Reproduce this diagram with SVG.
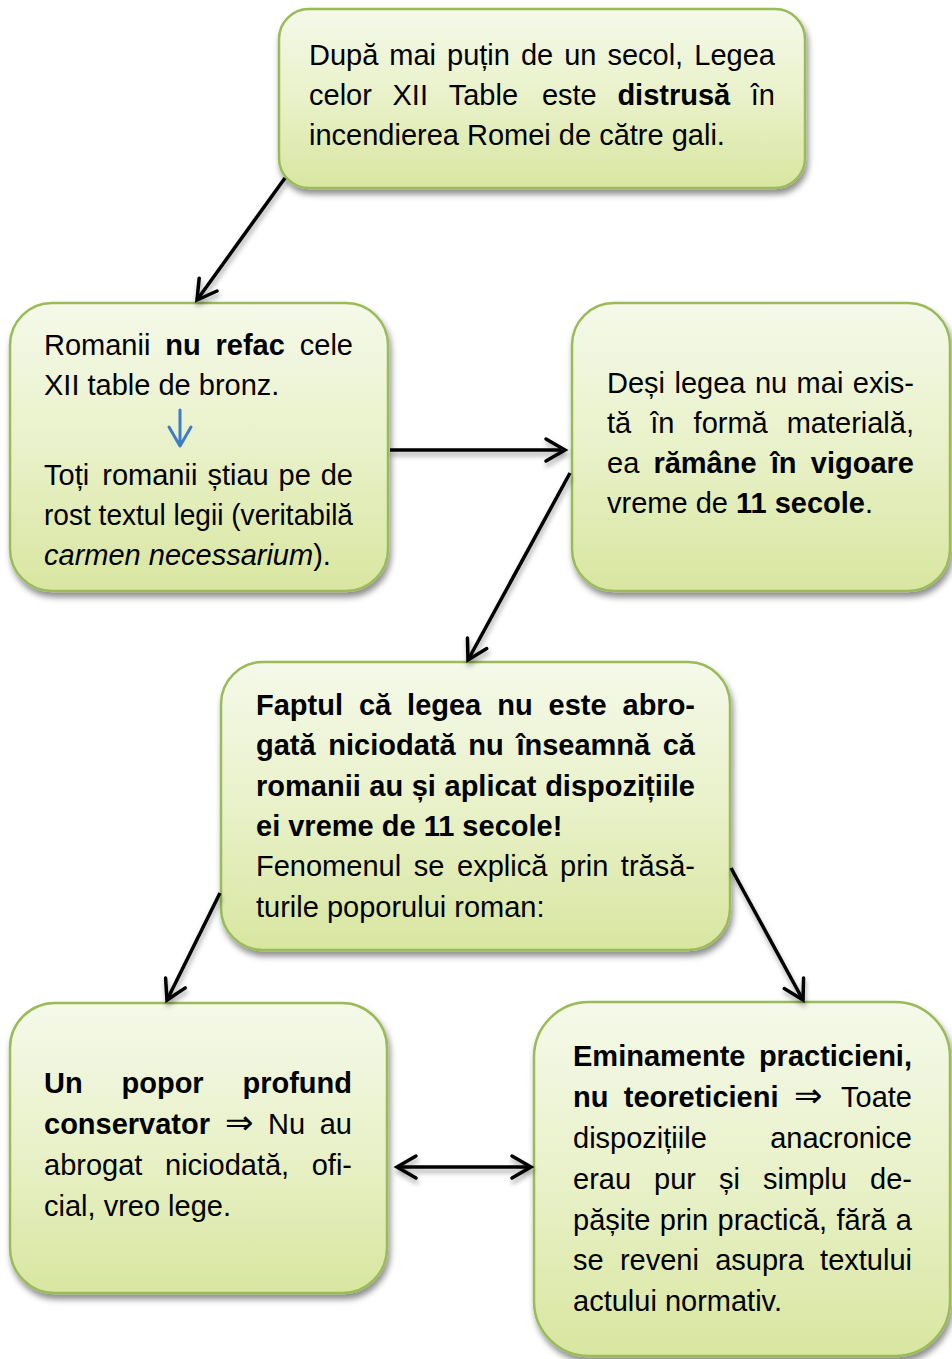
<svg xmlns="http://www.w3.org/2000/svg" width="952" height="1359" viewBox="0 0 952 1359">
<defs>
<linearGradient id="gf" x1="0" y1="0" x2="0" y2="1">
<stop offset="0" stop-color="#f5f9ea"/>
<stop offset="0.5" stop-color="#e9f1c9"/>
<stop offset="1" stop-color="#d8e6a0"/>
</linearGradient>
<filter id="sh" x="-10%" y="-10%" width="125%" height="130%">
<feDropShadow dx="2" dy="5" stdDeviation="3" flood-color="#000" flood-opacity="0.45"/>
</filter>
<filter id="lsh" x="-20%" y="-20%" width="140%" height="140%">
<feDropShadow dx="1" dy="4" stdDeviation="2.5" flood-color="#000" flood-opacity="0.35"/>
</filter>
<marker id="ah" viewBox="-24 -14 30 28" refX="0" refY="0" markerWidth="30" markerHeight="28" markerUnits="userSpaceOnUse" orient="auto-start-reverse">
<path d="M-19,-11 L0,0 L-19,11" fill="none" stroke="#000" stroke-width="3.5" stroke-linecap="round"/>
</marker>
<style>
.box{fill:url(#gf);stroke:#9bbb59;stroke-width:2.5;filter:url(#sh)}
text{font-family:"Liberation Sans",Arial,sans-serif;font-size:29px;fill:#000}
.b{font-weight:bold}
.i{font-style:italic}
.sym{font-family:"DejaVu Sans",sans-serif;font-weight:normal;font-size:34px}
.e{text-anchor:end}
.con{stroke:#000;stroke-width:3.5;fill:none;marker-end:url(#ah)}
</style>
</defs>

<g id="node-1">
<rect class="box" x="279" y="9" width="526" height="179" rx="30"/>
<text y="65"><tspan x="309">După</tspan><tspan x="389.3">mai</tspan><tspan x="447">puțin</tspan><tspan x="520.9">de</tspan><tspan x="564.2">un</tspan><tspan x="607.4">secol,</tspan><tspan x="775" class="e">Legea</tspan></text>
<text y="105"><tspan x="309">celor</tspan><tspan x="392.5">XII</tspan><tspan x="448.7">Table</tspan><tspan x="541.9">este</tspan><tspan x="617.4" class="b">distrusă</tspan><tspan x="775" class="e">în</tspan></text>
<text x="309" y="145">incendierea Romei de către gali.</text>
</g>

<g id="node-2">
<rect class="box" x="10" y="303" width="378" height="288" rx="42"/>
<text y="355"><tspan x="44">Romanii</tspan><tspan x="165.2" class="b">nu</tspan><tspan x="215.5" class="b">refac</tspan><tspan x="353" class="e">cele</tspan></text>
<text x="44" y="395">XII table de bronz.</text>
<path d="M180,410 L180,445 M169,427 L180,446 L191,427" fill="none" stroke="#3d7cc9" stroke-width="3" stroke-linecap="round" stroke-linejoin="round"/>
<text y="485"><tspan x="44">Toți</tspan><tspan x="102.3">romanii</tspan><tspan x="207.4">știau</tspan><tspan x="278.6">pe</tspan><tspan x="353" class="e">de</tspan></text>
<text x="44" y="525" textLength="309" lengthAdjust="spacingAndGlyphs">rost textul legii (veritabilă</text>
<text x="44" y="565"><tspan class="i">carmen necessarium</tspan>).</text>
</g>

<g id="node-3">
<rect class="box" x="572" y="303" width="378" height="288" rx="42"/>
<text y="393"><tspan x="607">Deși</tspan><tspan x="674.5">legea</tspan><tspan x="754.9">nu</tspan><tspan x="796.6">mai</tspan><tspan x="914" class="e">exis-</tspan></text>
<text y="433"><tspan x="607">tă</tspan><tspan x="650.3">în</tspan><tspan x="693.6">formă</tspan><tspan x="914" class="e">materială,</tspan></text>
<text y="473"><tspan x="607">ea</tspan><tspan x="653.4" class="b">rămâne</tspan><tspan x="770.8" class="b">în</tspan><tspan x="914" class="e b">vigoare</tspan></text>
<text x="607" y="513">vreme de <tspan class="b">11 secole</tspan>.</text>
</g>

<g id="node-4">
<rect class="box" x="221" y="662" width="509" height="288" rx="42"/>
<text y="715" class="b"><tspan x="256">Faptul</tspan><tspan x="358.9">că</tspan><tspan x="407.1">legea</tspan><tspan x="497.2">nu</tspan><tspan x="548.5">este</tspan><tspan x="695" class="e">abro-</tspan></text>
<text y="755.3" class="b"><tspan x="256">gată</tspan><tspan x="328.3">niciodată</tspan><tspan x="468.3">nu</tspan><tspan x="516.4">înseamnă</tspan><tspan x="695" class="e">că</tspan></text>
<text y="795.6" class="b"><tspan x="256">romanii</tspan><tspan x="369.3">au</tspan><tspan x="411.7">și</tspan><tspan x="444.5">aplicat</tspan><tspan x="695" class="e">dispozițiile</tspan></text>
<text x="256" y="835.9" class="b">ei vreme de 11 secole!</text>
<text y="876.2"><tspan x="256">Fenomenul</tspan><tspan x="413.8">se</tspan><tspan x="457.1">explică</tspan><tspan x="560">prin</tspan><tspan x="695" class="e">trăsă-</tspan></text>
<text x="256" y="916.5">turile poporului roman:</text>
</g>

<g id="node-5">
<rect class="box" x="10" y="1003" width="377" height="290" rx="45"/>
<text y="1093" class="b"><tspan x="44">Un</tspan><tspan x="121.5">popor</tspan><tspan x="352" class="e">profund</tspan></text>
<text y="1134"><tspan x="44" class="b">conservator</tspan><tspan x="225" class="sym">⇒</tspan><tspan x="268">Nu</tspan><tspan x="352" class="e">au</tspan></text>
<text y="1175"><tspan x="44">abrogat</tspan><tspan x="165">niciodată,</tspan><tspan x="352" class="e">ofi-</tspan></text>
<text x="44" y="1216">cial, vreo lege.</text>
</g>

<g id="node-6">
<rect class="box" x="534" y="1002" width="416" height="354" rx="55"/>
<text y="1066" class="b"><tspan x="573">Eminamente</tspan><tspan x="912" class="e">practicieni,</tspan></text>
<text y="1107"><tspan x="573" class="b">nu</tspan><tspan x="623.8" class="b">teoreticieni</tspan><tspan x="794" class="sym">⇒</tspan><tspan x="912" class="e">Toate</tspan></text>
<text y="1148"><tspan x="573">dispozițiile</tspan><tspan x="912" class="e">anacronice</tspan></text>
<text y="1189"><tspan x="573">erau</tspan><tspan x="654.1">pur</tspan><tspan x="719.1">și</tspan><tspan x="763.1">simplu</tspan><tspan x="912" class="e">de-</tspan></text>
<text y="1230"><tspan x="573">pășite</tspan><tspan x="659.8">prin</tspan><tspan x="717.5">practică,</tspan><tspan x="836.5">fără</tspan><tspan x="912" class="e">a</tspan></text>
<text y="1270"><tspan x="573">se</tspan><tspan x="619.9">reveni</tspan><tspan x="715.2">asupra</tspan><tspan x="912" class="e">textului</tspan></text>
<text x="573" y="1311">actului normativ.</text>
</g>

<g id="connectors" filter="url(#lsh)">
<path class="con" d="M285,178 L197,300"/>
<path class="con" d="M390,450 L565,450"/>
<path class="con" d="M570,473 L468,660"/>
<path class="con" d="M220,893 L167,1000"/>
<path class="con" d="M731,868 L803,1000"/>
<path class="con" d="M397,1167 L531,1167" style="marker-start:url(#ah)"/>
</g>
</svg>
